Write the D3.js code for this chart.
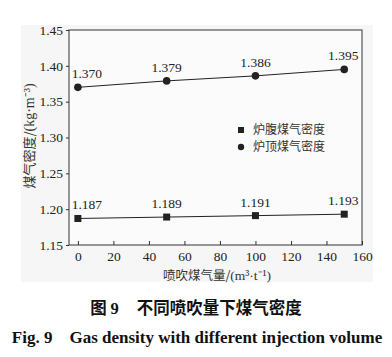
<!DOCTYPE html>
<html><head><meta charset="utf-8">
<script src="https://cdn.jsdelivr.net/npm/d3@7"></script>
<style>body{margin:0;background:#fff}svg{display:block}</style>
</head><body>
<svg id="c" width="392" height="357"></svg>
<script>
const injection = [0, 50, 100, 150];
const bellyDensity = [1.187, 1.189, 1.191, 1.193];
const topDensity = [1.370, 1.379, 1.386, 1.395];
const xTicks = [0, 20, 40, 60, 80, 100, 120, 140, 160];
const yTicks = [1.15, 1.20, 1.25, 1.30, 1.35, 1.40, 1.45];
const seriesNames = ["炉腹煤气密度", "炉顶煤气密度"];

const svg = d3.select("#c");
const serif = "'Liberation Serif','Times New Roman',serif";
const cjk = "'Noto Sans CJK SC',sans-serif";
const L = 69, R = 362, T = 30, B = 245;
svg.append("rect").attr("x", 21).attr("y", 25).attr("width", 352).attr("height", 257).attr("fill", "#f6f6f6");

const x = d3.scaleLinear().domain([-5, 160]).range([L, R]);
const y = d3.scaleLinear().domain([1.15, 1.45]).range([B, T]);

svg.append("rect").attr("x", L).attr("y", T).attr("width", R - L).attr("height", B - T)
  .attr("fill", "#fbfbfb").attr("stroke", "#333").attr("stroke-width", 1);

const xa = svg.append("g").attr("transform", `translate(0,${B})`)
  .call(d3.axisBottom(x).tickValues(xTicks).tickSize(-4).tickPadding(6).tickFormat(d3.format("d")));
xa.select(".domain").remove();
xa.selectAll("line").attr("stroke", "#333");
xa.selectAll("text").style("font-family", serif).style("font-size", "13.5px").attr("fill", "#222");

const ya = svg.append("g").attr("transform", `translate(${L},0)`)
  .call(d3.axisLeft(y).tickValues(yTicks).tickSize(3).tickPadding(3).tickFormat(d3.format(".2f")));
ya.select(".domain").remove();
ya.selectAll("line").attr("stroke", "#333");
ya.selectAll("text").style("font-family", serif).style("font-size", "13.5px").attr("fill", "#222");

const line = d3.line().x((d, i) => x(injection[i])).y(d => y(d));
[bellyDensity, topDensity].forEach((vals, k) => {
  svg.append("path").datum(vals).attr("d", line).attr("fill", "none").attr("stroke", "#222").attr("stroke-width", 1);
  vals.forEach((v, i) => {
    if (k === 0) {
      svg.append("rect").attr("x", x(injection[i]) - 3.5).attr("y", y(v) - 3.5).attr("width", 7).attr("height", 7).attr("fill", "#222");
    } else {
      svg.append("circle").attr("cx", x(injection[i])).attr("cy", y(v)).attr("r", 3.8).attr("fill", "#222");
    }
    svg.append("text").attr("x", x(injection[i]) + (i === 0 ? 9 : i === 3 ? -1 : 0)).attr("y", y(v) - 9)
      .attr("text-anchor", "middle").style("font-family", serif).style("font-size", "13.5px").attr("fill", "#222")
      .text(d3.format(".3f")(v));
  });
});

// legend
const lg = svg.append("g");
seriesNames.forEach((n, i) => {
  const ly = 130 + i * 17;
  if (i === 0) lg.append("rect").attr("x", 238).attr("y", ly - 3).attr("width", 6).attr("height", 6).attr("fill", "#222");
  else lg.append("circle").attr("cx", 241).attr("cy", ly).attr("r", 3.2).attr("fill", "#222");
  lg.append("text").attr("x", 253).attr("y", ly).attr("dy", "0.35em").attr("font-family", cjk).attr("font-size", 12).attr("fill", "#333").text(n);
});

// axis titles
const yt = svg.append("text").attr("transform", "translate(29,136) rotate(-90)").attr("text-anchor", "middle")
  .attr("dy", "0.35em").attr("font-family", cjk).attr("font-size", 13).attr("fill", "#333");
yt.append("tspan").text("煤气密度/");
yt.append("tspan").attr("font-family", serif).attr("font-size", 14).text("(kg·m⁻³)");

const xt = svg.append("text").attr("x", 217).attr("y", 276).attr("text-anchor", "middle")
  .attr("dy", "0.32em").attr("font-family", cjk).attr("font-size", 12.5).attr("fill", "#333");
xt.append("tspan").text("喷吹煤气量/");
xt.append("tspan").attr("font-family", serif).attr("font-size", 13.5).text("(m³·t⁻¹)");

// captions
const c1 = svg.append("text").attr("x", 196).attr("y", 308).attr("text-anchor", "middle").attr("dy", "0.35em")
  .attr("font-weight", "bold").attr("font-size", 16.5).attr("fill", "#111");
c1.append("tspan").attr("font-family", cjk).text("图 ");
c1.append("tspan").attr("font-family", serif).text("9");
c1.append("tspan").attr("font-family", cjk).attr("dx", 18).text("不同喷吹量下煤气密度");

svg.append("text").attr("x", 197).attr("y", 337).attr("text-anchor", "middle").attr("dy", "0.35em")
  .attr("font-family", serif).attr("font-weight", "bold").attr("font-size", 17).attr("fill", "#111")
  .attr("xml:space", "preserve").text("Fig. 9    Gas density with different injection volume");
</script>
</body></html>
